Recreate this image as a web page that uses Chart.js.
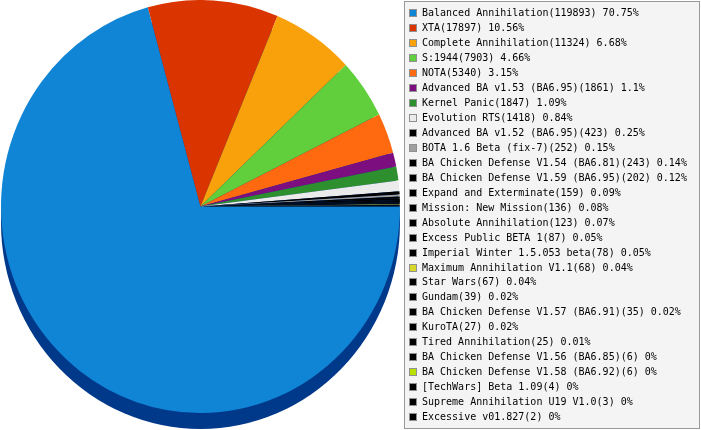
<!DOCTYPE html>
<html>
<head>
<meta charset="utf-8">
<script src="https://cdn.jsdelivr.net/npm/chart.js@4.4.1/dist/chart.umd.min.js"></script>
<style>
html,body{margin:0;padding:0;background:#ffffff;overflow:hidden}
#wrap{position:relative;width:701px;height:430px}
</style>
</head>
<body>
<div id="wrap"><canvas id="chart"></canvas></div>
<script>
// ---- data ----
const mods = [
  "Balanced Annihilation", "XTA", "Complete Annihilation", "S:1944", "NOTA",
  "Advanced BA v1.53 (BA6.95)", "Kernel Panic", "Evolution RTS",
  "Advanced BA v1.52 (BA6.95)", "BOTA 1.6 Beta (fix-7)",
  "BA Chicken Defense V1.54 (BA6.81)", "BA Chicken Defense V1.59 (BA6.95)",
  "Expand and Exterminate", "Mission: New Mission", "Absolute Annihilation",
  "Excess Public BETA 1", "Imperial Winter 1.5.053 beta", "Maximum Annihilation V1.1",
  "Star Wars", "Gundam", "BA Chicken Defense V1.57 (BA6.91)", "KuroTA",
  "Tired Annihilation", "BA Chicken Defense V1.56 (BA6.85)",
  "BA Chicken Defense V1.58 (BA6.92)", "[TechWars] Beta 1.09",
  "Supreme Annihilation U19 V1.0", "Excessive v01.827"
];
const games = [
  119893, 17897, 11324, 7903, 5340, 1861, 1847, 1418, 423, 252, 243, 202,
  159, 136, 123, 87, 78, 68, 67, 39, 35, 27, 25, 6, 6, 4, 3, 2
];
const shares = [
  "70.75", "10.56", "6.68", "4.66", "3.15", "1.1", "1.09", "0.84", "0.25", "0.15",
  "0.14", "0.12", "0.09", "0.08", "0.07", "0.05", "0.05", "0.04", "0.04", "0.02",
  "0.02", "0.02", "0.01", "0", "0", "0", "0", "0"
];
const sliceColors = [
  "#1085D5", "#DA3500", "#F8A10A", "#61CF3B", "#FF6A10", "#7C0E80", "#2E8F2E", "#EBEBEB",
  "#000000", "#A0A0A0", "#000000", "#000000", "#000000", "#000000", "#000000", "#000000",
  "#000000", "#D8D82A", "#000000", "#000000", "#000000", "#000000", "#000000", "#000000",
  "#B8E000", "#000000", "#000000", "#000000"
];
const legendLabels = mods.map((m, i) => m + "(" + games[i] + ") " + shares[i] + "%");

// ---- tilted pie: vertical stretch + dark side wall ----
const tiltPlugin = {
  id: "tilt",
  beforeDatasetsDraw(chart, args, opts) {
    const arc = chart.getDatasetMeta(0).data[0];
    if (!arc) return;
    const ctx = chart.ctx;
    const ca = chart.chartArea;
    const cx = arc.x, cy = arc.y, r = arc.outerRadius;
    const sy = (ca.height / 2) / r;
    ctx.save();
    ctx.translate(cx, cy);
    ctx.scale(1, sy);
    ctx.translate(-cx, -cy);
    ctx.beginPath();
    ctx.arc(cx, cy + opts.depth / sy, r, 0, Math.PI * 2);
    ctx.fillStyle = opts.wallColor;
    ctx.fill();
  },
  afterDatasetsDraw(chart) {
    if (chart.getDatasetMeta(0).data[0]) chart.ctx.restore();
  }
};

// ---- legend panel on the right ----
const legendPanel = {
  id: "legendPanel",
  afterDraw(chart, args, opts) {
    const ctx = chart.ctx;
    const ca = chart.chartArea;
    const left = ca.right + opts.gap;
    const right = chart.width - 2;
    ctx.save();
    ctx.fillStyle = opts.background;
    ctx.strokeStyle = opts.borderColor;
    ctx.lineWidth = 1;
    ctx.fillRect(left + 0.5, 1.5, right - left, chart.height - 3);
    ctx.strokeRect(left + 0.5, 1.5, right - left, chart.height - 3);
    ctx.font = opts.font;
    ctx.textBaseline = "alphabetic";
    ctx.textAlign = "left";
    const bg = chart.data.datasets[0].backgroundColor;
    chart.data.labels.forEach((label, i) => {
      const mid = opts.firstRow + i * opts.rowPitch;
      const top = Math.round(mid - 3.5);
      ctx.fillStyle = bg[i];
      ctx.fillRect(left + 5.5, top + 0.5, 7, 7);
      ctx.strokeStyle = opts.swatchBorder;
      ctx.strokeRect(left + 5.5, top + 0.5, 7, 7);
      ctx.fillStyle = "#000000";
      ctx.fillText(label, left + 18, Math.round(mid + 3.5));
    });
    ctx.restore();
  }
};

new Chart(document.getElementById("chart"), {
  type: "pie",
  data: {
    labels: legendLabels,
    datasets: [{
      data: games,
      backgroundColor: sliceColors,
      borderWidth: 0,
      hoverOffset: 0
    }]
  },
  options: {
    responsive: true,
    maintainAspectRatio: false,
    animation: false,
    events: [],
    rotation: 90,
    layout: { padding: { left: 1, right: 301, top: 0, bottom: 17 } },
    plugins: {
      legend: { display: false },
      tooltip: { enabled: false },
      tilt: { depth: 16, wallColor: "#00388A" },
      legendPanel: {
        gap: 4,
        background: "#F4F4F4",
        borderColor: "#999999",
        swatchBorder: "#909090",
        font: "10px 'DejaVu Sans Mono'",
        firstRow: 12.7,
        rowPitch: 14.96
      }
    }
  },
  plugins: [tiltPlugin, legendPanel]
});
</script>
</body>
</html>
